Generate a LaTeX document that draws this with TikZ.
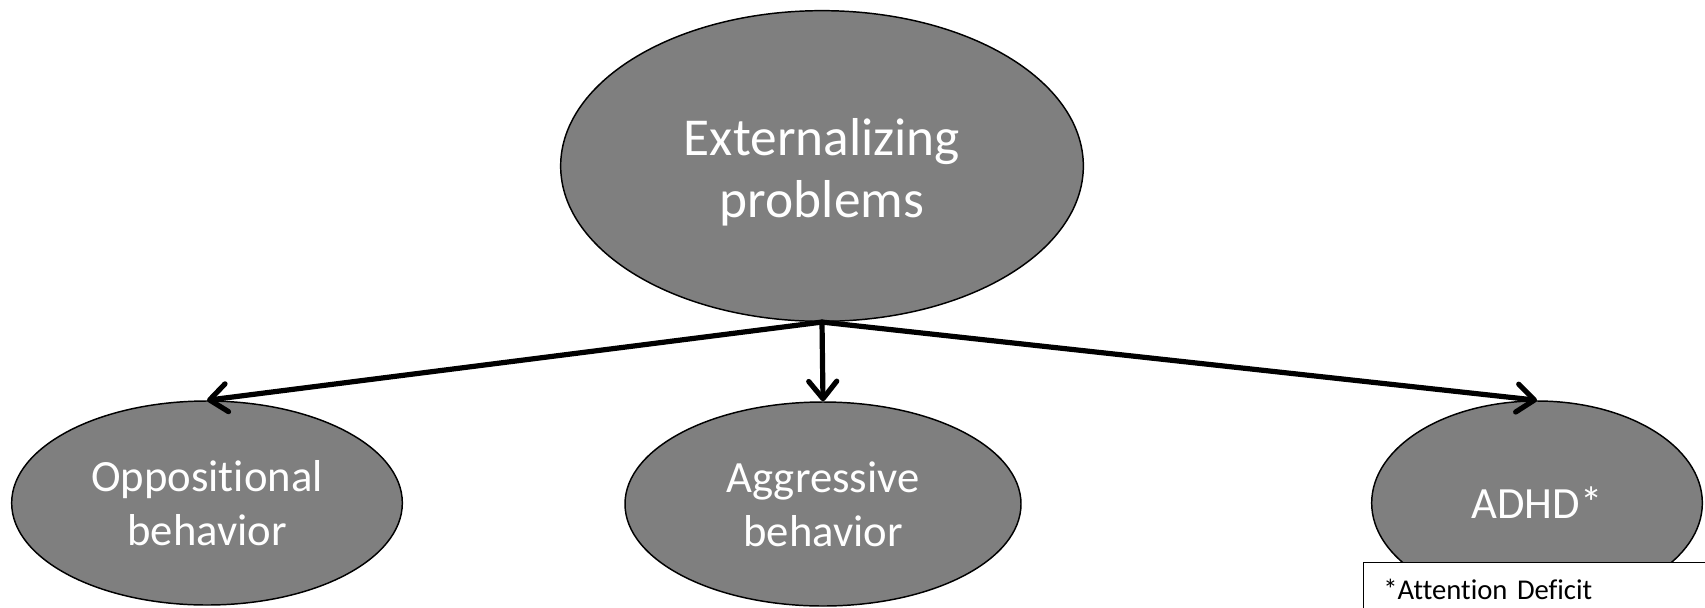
\documentclass[tikz,border=0pt]{standalone}
\usepackage{fontspec}
\setmainfont{Carlito}[Ligatures=NoCommon]
\usetikzlibrary{shapes.geometric,arrows.meta,positioning}

\definecolor{blobgray}{RGB}{127,127,127}

\tikzset{
    blob/.style={ellipse,draw=black,line width=1.1pt,fill=blobgray,
        text=white,align=center,inner sep=0pt},
    bigblob/.style={blob,minimum width=392pt,minimum height=233pt},
    bigtext/.style={text=white,align=center,inner sep=0pt,
        font=\fontsize{40}{46.5}\selectfont},
    smallblob/.style={blob,minimum height=153pt,
        font=\fontsize{33.5}{40.5}\selectfont},
    link/.style={line width=3.9pt,line cap=round,
        -{Straight Barb[length=13pt,width=21pt,line width=3.9pt,round]}},
    notebox/.style={draw=black,line width=1.1pt,fill=white,anchor=north west,
        align=left,inner xsep=15pt,inner ysep=12pt,text height=16pt,
        text depth=80pt,text width=270pt,font=\fontsize{21.5}{26}\selectfont}
}

\begin{document}
\begin{tikzpicture}[x=0.75pt,y=-0.75pt]
    \useasboundingbox (0,0) rectangle (1705,607);
    \clip (0,0) rectangle (1705,607);

    % top ellipse and the three below it
    \node[bigblob] (ext) at (822,166) {};
    \node[bigtext,yshift=-5pt] (exttext) at (ext.center) {Externalizing\\problems};
    \node[smallblob,minimum width=293pt] (opp) at (207,503) {Oppositional\\behavior};
    \node[smallblob,minimum width=297pt] (agg) at (823,504) {Aggressive\\behavior};
    \node[smallblob,minimum width=248pt] (adhd) at (1537,503) {ADHD*};

    \draw[link] (ext.south) -- (opp.north);
    \draw[link] (ext.south) -- (agg.north);
    \draw[link] (ext.south) -- (adhd.north);

    % footnote box, cut by the page edge
    \node[notebox] (note) at (1362.7,561.7) {*Attention Deficit};
\end{tikzpicture}
\end{document}
